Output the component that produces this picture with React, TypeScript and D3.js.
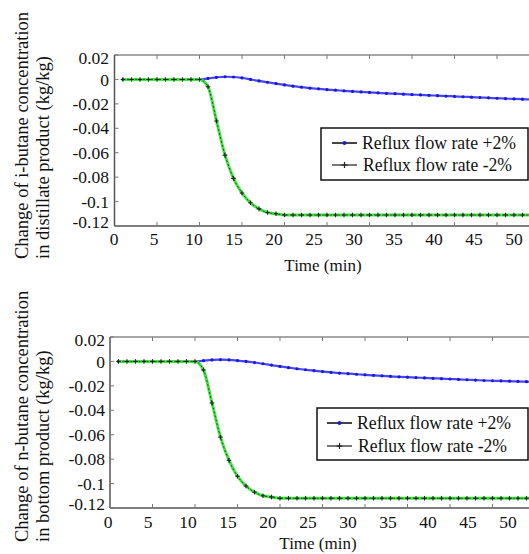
import React from 'react';
import * as d3 from 'd3';

const times = [1,2,3,4,5,6,7,8,9,10,11,12,13,14,15,16,17,18,19,20,21,22,23,24,25,26,27,28,29,30,31,32,33,34,35,36,37,38,39,40,41,42,43,44,45,46,47,48,49,50,51,52];

const iButaneUp = [0,0,0,0,0,0,0,0,0,0,
  0.0008,0.0017,0.0022,0.0020,0.0012,0.0000,-0.0012,-0.0023,-0.0034,-0.0045,
  -0.0055,-0.0063,-0.0071,-0.0077,-0.0083,-0.0088,-0.0093,-0.0098,-0.0102,-0.0106,
  -0.0110,-0.0114,-0.0117,-0.0121,-0.0124,-0.0127,-0.0130,-0.0133,-0.0136,-0.0139,
  -0.0142,-0.0145,-0.0148,-0.0151,-0.0154,-0.0157,-0.0160,-0.0162,-0.0164,-0.0166,
  -0.0168,-0.0170];
const iButaneDown = [0,0,0,0,0,0,0,0,0,0,
  -0.006,-0.034,-0.062,-0.081,-0.093,-0.101,-0.106,-0.109,-0.110,-0.111,
  -0.111,-0.111,-0.111,-0.111,-0.111,-0.111,-0.111,-0.111,-0.111,-0.111,
  -0.111,-0.111,-0.111,-0.111,-0.111,-0.111,-0.111,-0.111,-0.111,-0.111,
  -0.111,-0.111,-0.111,-0.111,-0.111,-0.111,-0.111,-0.111,-0.111,-0.111,
  -0.111,-0.111];
const nButaneUp = [0,0,0,0,0,0,0,0,0,0,
  0.0006,0.0012,0.0014,0.0012,0.0007,0.0000,-0.0009,-0.0019,-0.0030,-0.0041,
  -0.0051,-0.0060,-0.0068,-0.0076,-0.0083,-0.0089,-0.0095,-0.0100,-0.0105,-0.0110,
  -0.0114,-0.0118,-0.0122,-0.0126,-0.0129,-0.0132,-0.0135,-0.0138,-0.0141,-0.0144,
  -0.0147,-0.0150,-0.0153,-0.0156,-0.0158,-0.0160,-0.0162,-0.0164,-0.0166,-0.0167,
  -0.0168,-0.0169];
const nButaneDown = [0,0,0,0,0,0,0,0,0,0,
  -0.007,-0.034,-0.062,-0.081,-0.094,-0.102,-0.107,-0.110,-0.111,-0.112,
  -0.112,-0.112,-0.112,-0.112,-0.112,-0.112,-0.112,-0.112,-0.112,-0.112,
  -0.112,-0.112,-0.112,-0.112,-0.112,-0.112,-0.112,-0.112,-0.112,-0.112,
  -0.112,-0.112,-0.112,-0.112,-0.112,-0.112,-0.112,-0.112,-0.112,-0.112,
  -0.112,-0.112];

const xTicks = [0,5,10,15,20,25,30,35,40,45,50,55,60];
const xTickLabels = [0,5,10,15,20,25,30,35,40,45,50];
const yTicks = [0.02,0,-0.02,-0.04,-0.06,-0.08,-0.1,-0.12];
const yTickLabels = ['0.02','0','-0.02','-0.04','-0.06','-0.08','-0.1','-0.12'];
const seriesNames = ['Reflux flow rate +2%', 'Reflux flow rate -2%'];
const xTitle = 'Time (min)';
const yTitlesTop = ['Change of i-butane concentration', 'in distillate product (kg/kg)'];
const yTitlesBottom = ['Change of n-butane concentration', 'in bottom product (kg/kg)'];

const FONT = '"Liberation Serif", "Times New Roman", Times, serif';

type PanelProps = {
  left: number; top: number; bottom: number;
  labelX0: number; labelYRight: number; xLabelBaseline: number;
  xTitleX: number; xTitleY: number;
  yTitleStart: number;
  titles: string[];
  up: number[]; down: number[];
  legend: { x: number; y: number; w: number; h: number; sx: number; tx: number; r1: number; r2: number };
  clipId: string;
};

function Panel(p: PanelProps) {
  const x = d3.scaleLinear().domain([0, 60]).range([p.left, p.left + 510]);
  const xl = d3.scaleLinear().domain([0, 50]).range([p.labelX0, p.labelX0 + 400]);
  const y = d3.scaleLinear().domain([-0.12, 0.02]).range([p.bottom, p.top]);
  const upData = times.map((t, i) => [t, p.up[i]] as [number, number]);
  const downData = times.map((t, i) => [t, p.down[i]] as [number, number]);
  const line = d3.line<[number, number]>().x(d => x(d[0])).y(d => y(d[1])).curve(d3.curveMonotoneX);
  const right = 529;
  const lg = p.legend;
  return (
    <g>
      <defs>
        <clipPath id={p.clipId}>
          <rect x={p.left} y={p.top} width={right - p.left} height={p.bottom - p.top} />
        </clipPath>
      </defs>
      <g clipPath={`url(#${p.clipId})`}>
        <path d={line(upData) || ''} fill="none" stroke="#4545ff" strokeWidth={2.2} />
        {upData.map((d, i) => (
          <circle key={i} cx={x(d[0])} cy={y(d[1])} r={1.6} fill="#1a1ad0" />
        ))}
        <path d={line(downData) || ''} fill="none" stroke="#3fe83f" strokeWidth={3} />
        <path d={line(downData) || ''} fill="none" stroke="#333" strokeWidth={0.9} strokeDasharray="2,2" />
        {downData.map((d, i) => (
          <g key={i} stroke="#222" strokeWidth={1.1}>
            <line x1={x(d[0]) - 2.3} x2={x(d[0]) + 2.3} y1={y(d[1])} y2={y(d[1])} />
            <line x1={x(d[0])} x2={x(d[0])} y1={y(d[1]) - 2.3} y2={y(d[1]) + 2.3} />
          </g>
        ))}
      </g>
      {/* frame */}
      <line x1={p.left} x2={right} y1={p.top} y2={p.top} stroke="#8a8a8a" strokeWidth={1.5} />
      <line x1={p.left} x2={right} y1={p.bottom} y2={p.bottom} stroke="#555" strokeWidth={1.5} />
      <line x1={p.left} x2={p.left} y1={p.top} y2={p.bottom} stroke="#555" strokeWidth={1.5} />
      {xTicks.filter(t => x(t) > p.left + 1 && x(t) < right).map(t => (
        <g key={t} stroke="#777" strokeWidth={1}>
          <line x1={x(t)} x2={x(t)} y1={p.top} y2={p.top + 4} />
          <line x1={x(t)} x2={x(t)} y1={p.bottom} y2={p.bottom - 4} />
        </g>
      ))}
      {yTicks.map(t => (
        <line key={t} x1={p.left} x2={p.left + 4} y1={y(t)} y2={y(t)} stroke="#777" strokeWidth={1} />
      ))}
      {/* tick labels */}
      {xTickLabels.map(t => (
        <text key={t} x={xl(t)} y={p.xLabelBaseline} textAnchor="middle" fontSize={17.5} fontFamily={FONT} fill="#111">{t}</text>
      ))}
      {yTicks.map((t, i) => {
        let yy = y(t);
        if (i === 0) yy += 3;
        if (i === yTicks.length - 1) yy -= 4;
        return (
          <text key={t} x={p.labelYRight} y={yy} dy="0.35em" textAnchor="end" fontSize={17.5} fontFamily={FONT} fill="#111">{yTickLabels[i]}</text>
        );
      })}
      <text x={p.xTitleX} y={p.xTitleY} textAnchor="middle" fontSize={17} fontFamily={FONT} fill="#111">{xTitle}</text>
      {p.titles.map((s, i) => (
        <text key={i} transform={`translate(${28 + i * 21},${p.yTitleStart}) rotate(-90)`} textAnchor="start" fontSize={18.5} fontFamily={FONT} fill="#111">{s}</text>
      ))}
      {/* legend */}
      <rect x={lg.x} y={lg.y} width={lg.w} height={lg.h} fill="#fff" stroke="#111" strokeWidth={1.5} />
      <line x1={lg.sx} x2={lg.sx + 25} y1={lg.r1} y2={lg.r1} stroke="#444" strokeWidth={2} />
      <circle cx={lg.sx + 12.5} cy={lg.r1} r={2} fill="#1a1ad0" />
      <line x1={lg.sx} x2={lg.sx + 25} y1={lg.r2} y2={lg.r2} stroke="#777" strokeWidth={2} />
      <g stroke="#222" strokeWidth={1.2}>
        <line x1={lg.sx + 9.5} x2={lg.sx + 15.5} y1={lg.r2} y2={lg.r2} />
        <line x1={lg.sx + 12.5} x2={lg.sx + 12.5} y1={lg.r2 - 3} y2={lg.r2 + 3} />
      </g>
      <text x={lg.tx} y={lg.r1} dy="0.35em" fontSize={18} fontFamily={FONT} fill="#111" textLength={154} lengthAdjust="spacingAndGlyphs">{seriesNames[0]}</text>
      <text x={lg.tx + 1} y={lg.r2} dy="0.35em" fontSize={18} fontFamily={FONT} fill="#111" textLength={149} lengthAdjust="spacingAndGlyphs">{seriesNames[1]}</text>
    </g>
  );
}

export default function App() {
  return (
    <svg width={529} height={554} style={{ position: 'absolute', left: 0, top: 0, background: '#fff' }}>
      <rect x={0} y={0} width={529} height={554} fill="#fff" />
      <Panel
        left={114.5} top={55} bottom={226}
        labelX0={114} labelYRight={109} xLabelBaseline={245}
        xTitleX={323} xTitleY={271}
        yTitleStart={259}
        titles={yTitlesTop}
        up={iButaneUp} down={iButaneDown}
        legend={{ x: 321, y: 128, w: 207, h: 52, sx: 332, tx: 362, r1: 143, r2: 165 }}
        clipId="clipTop"
      />
      <Panel
        left={110} top={337} bottom={508}
        labelX0={108} labelYRight={105} xLabelBaseline={528}
        xTitleX={318} xTitleY={549}
        yTitleStart={542}
        titles={yTitlesBottom}
        up={nButaneUp} down={nButaneDown}
        legend={{ x: 317, y: 408, w: 211, h: 52, sx: 327, tx: 357, r1: 423, r2: 446 }}
        clipId="clipBottom"
      />
    </svg>
  );
}
